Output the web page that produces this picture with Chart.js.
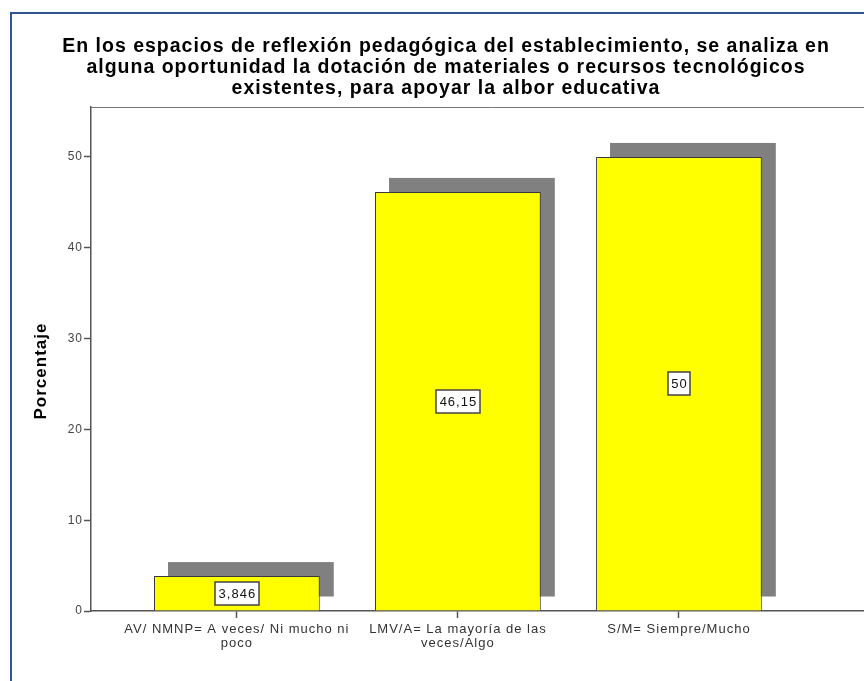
<!DOCTYPE html>
<html><head><meta charset="utf-8">
<script src="https://cdn.jsdelivr.net/npm/chart.js@4.4.1/dist/chart.umd.min.js"></script>
<style>
html,body{margin:0;padding:0;background:#fff;overflow:hidden;width:864px;height:681px;}
#frame{position:absolute;left:10px;top:12px;width:900px;height:700px;border-left:2px solid #2f5597;border-top:2px solid #2f5597;}
#wrap{position:absolute;left:0;top:0;width:892px;height:681px;}
</style></head><body>
<div id="frame"></div>
<div id="wrap"><canvas id="c" width="892" height="681"></canvas></div>
<script>
const titleLines = [
  "En los espacios de reflexión pedagógica del establecimiento, se analiza en",
  "alguna oportunidad la dotación de materiales o recursos tecnológicos",
  "existentes, para apoyar la albor educativa"
];
const categories = [
  ["AV/ NMNP= A veces/ Ni mucho ni", "poco"],
  ["LMV/A= La mayoría de las", "veces/Algo"],
  ["S/M= Siempre/Mucho"]
];
const percentages = [3.846, 46.15, 50];
const valueLabels = ["3,846", "46,15", "50"];
const yTicks = [0, 10, 20, 30, 40, 50];
const yAxisTitle = "Porcentaje";

const FONT = "'Liberation Sans', Arial, sans-serif";
const SHADOW = 14;

const spacingPlugin = {
  id: 'letterSpacing',
  beforeUpdate(chart) { chart.ctx.letterSpacing = '1px'; },
  beforeDraw(chart) { chart.ctx.letterSpacing = '1px'; }
};

const shadowPlugin = {
  id: 'shadowBars',
  beforeDatasetsDraw(chart) {
    const ctx = chart.ctx;
    const meta = chart.getDatasetMeta(0);
    ctx.save();
    ctx.fillStyle = '#808080';
    meta.data.forEach(el => {
      const p = el.getProps(['x', 'y', 'base', 'width'], true);
      ctx.fillRect(p.x - p.width / 2 + SHADOW, p.y - SHADOW, p.width, p.base - p.y);
    });
    ctx.restore();
  }
};

const labelPlugin = {
  id: 'valueBoxes',
  afterDatasetsDraw(chart) {
    const ctx = chart.ctx;
    const meta = chart.getDatasetMeta(0);
    ctx.save();
    ctx.font = "13px " + FONT;
    ctx.textAlign = 'center';
    ctx.textBaseline = 'middle';
    meta.data.forEach((el, i) => {
      const p = el.getProps(['x', 'y', 'base'], true);
      const cy = (p.y + p.base) / 2;
      const txt = valueLabels[i];
      const w = ctx.measureText(txt).width + 6;
      const h = 23;
      ctx.fillStyle = '#fff';
      ctx.strokeStyle = '#444';
      ctx.lineWidth = 1.5;
      ctx.beginPath();
      ctx.rect(Math.round(p.x - w / 2), Math.round(cy - h / 2), Math.round(w), h);
      ctx.fill();
      ctx.stroke();
      ctx.fillStyle = '#111';
      ctx.fillText(txt, p.x + 0.5, cy + 1);
    });
    ctx.restore();
  }
};

const framePlugin = {
  id: 'plotFrame',
  afterDraw(chart) {
    const {ctx, chartArea} = chart;
    ctx.save();
    ctx.strokeStyle = '#777';
    ctx.lineWidth = 1;
    ctx.beginPath();
    ctx.moveTo(chartArea.left, Math.round(chartArea.top) + 0.5);
    ctx.lineTo(chartArea.right, Math.round(chartArea.top) + 0.5);
    ctx.stroke();
    ctx.save();
    ctx.translate(41, (chartArea.top + chartArea.bottom) / 2 + 12);
    ctx.rotate(-Math.PI / 2);
    ctx.font = "bold 17px " + FONT;
    ctx.fillStyle = '#000';
    ctx.textAlign = 'center';
    ctx.textBaseline = 'middle';
    ctx.fillText(yAxisTitle, 0, 0);
    ctx.restore();
    ctx.restore();
  }
};

new Chart(document.getElementById('c'), {
  type: 'bar',
  data: {
    datasets: [{
      data: percentages.map((v, i) => ({x: i, y: v})),
      backgroundColor: '#ffff00',
      borderColor: '#3a3a3a',
      borderWidth: 1,
      categoryPercentage: 1,
      barPercentage: 0.75
    }]
  },
  options: {
    responsive: false,
    animation: false,
    devicePixelRatio: 1,
    layout: {padding: {left: 0, right: 0, top: 0, bottom: 0}},
    plugins: {
      legend: {display: false},
      tooltip: {enabled: false},
      title: {
        display: true,
        text: titleLines,
        color: '#000',
        font: {family: FONT, size: 19.5, weight: 'bold', lineHeight: 1.077},
        padding: {top: 36, bottom: 8}
      }
    },
    scales: {
      x: {
        type: 'linear',
        offset: false,
        min: -0.66,
        max: 2.964,
        afterFit(s) { s.height = 70; },
        afterBuildTicks(s) { s.ticks = categories.map((c, i) => ({value: i})); },
        ticks: {
          autoSkip: false,
          maxRotation: 0,
          padding: 4,
          color: '#333',
          font: {family: FONT, size: 13, lineHeight: 1.08},
          callback: (v) => categories[v]
        },
        grid: {display: true, offset: false, drawOnChartArea: false, drawTicks: true, tickLength: 7, tickColor: '#555', tickWidth: 1.5},
        border: {display: true, color: '#555', width: 1.5}
      },
      y: {
        min: 0,
        max: 55.5,
        afterFit(s) { s.width = 91; },
        afterBuildTicks(s) { s.ticks = yTicks.map(v => ({value: v})); },
        ticks: {
          padding: 1,
          color: '#444',
          font: {family: FONT, size: 12}
        },
        grid: {display: true, drawOnChartArea: false, drawTicks: true, tickLength: 7, tickColor: '#555', tickWidth: 1.5},
        border: {display: true, color: '#555', width: 1.5}
      }
    }
  },
  plugins: [spacingPlugin, shadowPlugin, labelPlugin, framePlugin]
});
</script>
</body></html>
